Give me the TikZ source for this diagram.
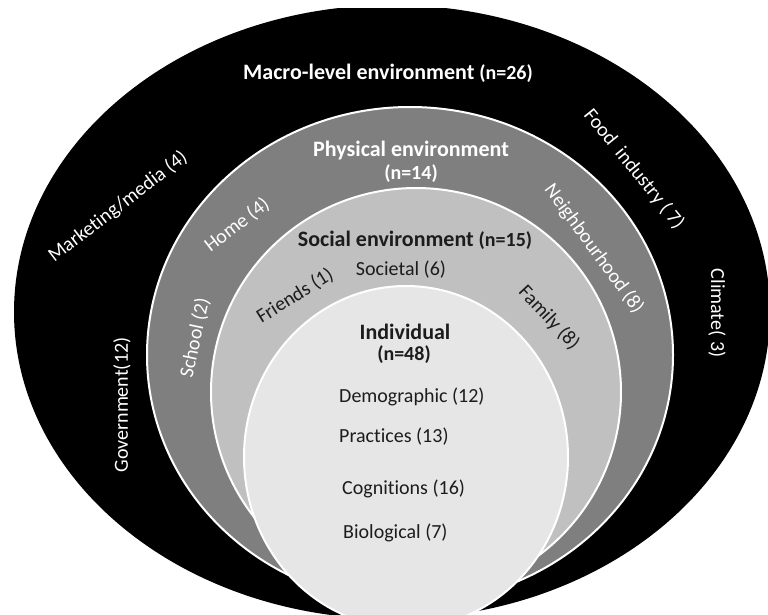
\documentclass[tikz,border=0pt]{standalone}
\usepackage{fontspec}
\setmainfont{Carlito}[Ligatures=NoCommon]
\usepackage{tikz}
\definecolor{physgrey}{RGB}{127,127,127}
\definecolor{socgrey}{RGB}{192,192,192}
\definecolor{indgrey}{RGB}{230,230,230}
\definecolor{inktext}{RGB}{28,28,28}

\begin{document}
\begin{tikzpicture}[x=1pt,y=-1pt,
  ring/.style={draw=white,line width=2pt},
  lbl/.style={inner sep=0pt,text=inktext,font=\fontsize{20}{24}\selectfont},
  wlbl/.style={lbl,text=white},
  head/.style={inner sep=0pt,text=inktext,font=\fontsize{22}{26}\selectfont\bfseries},
  nlbl/.style={head,font=\fontsize{20}{24}\selectfont\bfseries}]

\useasboundingbox (0,0) rectangle (768,615);

\begin{scope}
\clip (0,9) rectangle (768,615);
\fill[black] (392,312) ellipse (378 and 307);
\draw[ring,fill=physgrey] (410,355) ellipse (263 and 248);
\draw[ring,fill=socgrey] (416,392) ellipse (205 and 204);
\draw[ring,fill=indgrey] (406,457) ellipse (162 and 171);
\end{scope}

\node[head,text=white] (macro) at (388,73) {Macro-level environment {\fontsize{20}{24}\selectfont(n=26)}};
\node[wlbl,rotate=37.5] (market) at (118,207) {Marketing/media (4)};
\node[wlbl,rotate=90] (gov) at (122,405) {Government(12)};
\node[wlbl,rotate=-51] (food) at (634,169) {Food~~industry ( 7)};
\node[wlbl,rotate=-90] (climate) at (717,313) {Climate( 3)};

\node[head,text=white] (phys) at (411,151) {Physical environment};
\node[nlbl,text=white] (physn) at (411,174) {(n=14)};
\node[wlbl,rotate=37.6] (home) at (237,225) {Home (4)};
\node[wlbl,rotate=78] (school) at (195,338) {School (2)};
\node[wlbl,rotate=-54] (neigh) at (594,249) {Neighbourhood (8)};

\node[head] (soc) at (415,240) {Social environment {\fontsize{20}{24}\selectfont(n=15)}};
\node[lbl] (societal) at (401,270) {Societal (6)};
\node[lbl,rotate=32] (friends) at (295,296) {Friends (1)};
\node[lbl,rotate=-47] (family) at (549,318) {Family (8)};

\node[head] (indiv) at (405,332) {Individual};
\node[nlbl] (indivn) at (404,355) {(n=48)};
\node[lbl,anchor=west] (demo) at (339,397) {Demographic (12)};
\node[lbl,anchor=west] (prac) at (339,437) {Practices (13)};
\node[lbl,anchor=west] (cogn) at (342,489) {Cognitions (16)};
\node[lbl,anchor=west] (bio) at (343,533) {Biological (7)};
\end{tikzpicture}
\end{document}
